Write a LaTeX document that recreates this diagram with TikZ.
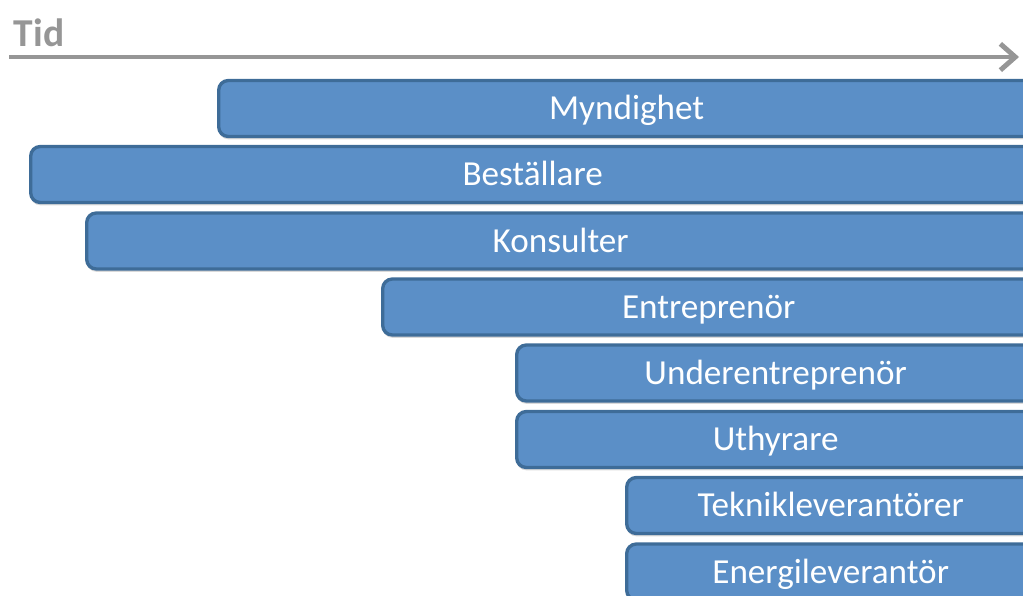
\documentclass[tikz,border=0pt]{standalone}
\usepackage{fontspec}
\setmainfont{Carlito}
\usetikzlibrary{arrows.meta,shadows}

\definecolor{barfill}{RGB}{91,143,199}
\definecolor{bardraw}{RGB}{62,108,152}
\definecolor{timegray}{RGB}{150,150,150}

\begin{document}
\begin{tikzpicture}[x=0.02cm,y=-0.02cm,
    bar/.style={draw=bardraw,fill=barfill,line width=1.9pt,rounded corners=5.5pt,
      anchor=west,minimum height=1.12cm,inner sep=0pt,text=white,
      text height=16pt,text depth=3pt,font=\fontsize{20}{24}\selectfont,
      drop shadow={shadow xshift=0pt,shadow yshift=-1.6pt,opacity=0.3,fill=gray}},
    timearrow/.style={draw=timegray,line width=2.8pt,-{Straight Barb[length=8.5pt,width=15pt,line width=2.8pt]}}]

    \useasboundingbox (0,0) rectangle (1023,595);
    \clip (0,0) rectangle (1023,595);

    \pgfmathsetmacro{\r}{1033}

    % time axis
    \node[anchor=west,text=timegray,font=\fontsize{22.5}{26}\selectfont\bfseries,inner sep=0pt] (tid) at (13.5,33) {Tid};
    \coordinate (t0) at (9,57);
    \coordinate (t1) at (1019,57);
    \draw[timearrow] (t0) -- (t1);

    \node[bar,minimum width={(\r-217)*0.02cm}] (myndighet) at (217,108.5) {Myndighet};
    \node[bar,minimum width={(\r-29)*0.02cm}] (bestallare) at (29,174.5) {Beställare};
    \node[bar,minimum width={(\r-85)*0.02cm}] (konsulter) at (85,241) {Konsulter};
    \node[bar,minimum width={(\r-381)*0.02cm}] (entreprenor) at (381,307) {Entreprenör};
    \node[bar,minimum width={(\r-515)*0.02cm}] (underentreprenor) at (515,373) {Underentreprenör};
    \node[bar,minimum width={(\r-515)*0.02cm}] (uthyrare) at (515,439.5) {Uthyrare};
    \node[bar,minimum width={(\r-625)*0.02cm}] (teknik) at (625,505.5) {Teknikleverantörer};
    \node[bar,minimum width={(\r-625)*0.02cm}] (energi) at (625,572) {Energileverantör};

  \end{tikzpicture}
\end{document}
